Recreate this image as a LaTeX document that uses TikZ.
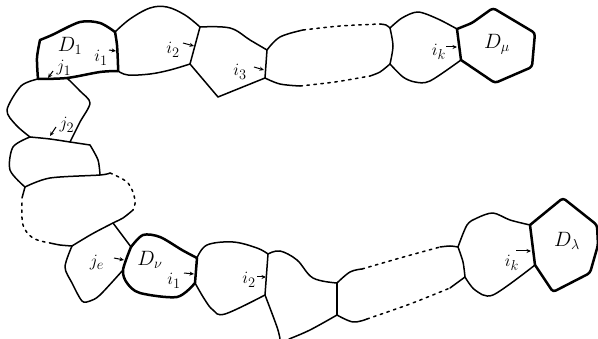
\documentclass[tikz,border=0pt]{standalone}
\usetikzlibrary{arrows.meta}
\begin{document}
\begin{tikzpicture}[x=1pt,y=-1pt,
  wall/.style={line width=1.5pt, line cap=round, line join=round},
  boldwall/.style={line width=2.5pt, line cap=round, line join=round},
  gap/.style={line width=1.5pt, line cap=round, dash pattern=on 2.5pt off 4.5pt},
  lbl/.style={font=\fontsize{19}{19}\selectfont, inner sep=0pt},
  big/.style={font=\fontsize{21}{21}\selectfont, inner sep=0pt},
  tip/.style={line width=1pt, -{Stealth[length=4.5pt,width=4pt]}}]
\useasboundingbox (0,0) rectangle (598,339);

% shared vertices of the cell walls
\coordinate (a1) at (40,40);   \coordinate (a2) at (115,32);
\coordinate (a3) at (118,71);  \coordinate (a4) at (38,79);
\coordinate (b1) at (200,27);  \coordinate (b2) at (190,64);
\coordinate (b3) at (218,97);
\coordinate (c1) at (267,50);  \coordinate (c2) at (265,78);
\coordinate (e1) at (390,28);  \coordinate (e2) at (390,64);
\coordinate (f1) at (457,29);  \coordinate (f2) at (461,60);
\coordinate (g1) at (67,78);
\coordinate (h1) at (30,137);  \coordinate (h2) at (70,142);
\coordinate (h3) at (90,145);  \coordinate (h4) at (100,175);
\coordinate (h5) at (25,187);  \coordinate (h6) at (110,173);
\coordinate (j1) at (72,246);  \coordinate (j2) at (113,223);
\coordinate (j3) at (131,247); \coordinate (j4) at (123,270);
\coordinate (k1) at (197,258); \coordinate (k2) at (195,283);
\coordinate (l1) at (268,254); \coordinate (l2) at (265,295);
\coordinate (m1) at (337,283); \coordinate (m2) at (337,315);
\coordinate (n1) at (458,247); \coordinate (n2) at (465,277);
\coordinate (p1) at (530,225); \coordinate (p2) at (535,265);

% ---- upper chain ----
\draw[wall] plot[smooth,tension=.6] coordinates {(a2) (130,19) (150,8) (167,7) (185,15) (b1)};
\draw[wall] plot[smooth,tension=.6] coordinates {(a3) (128,75) (150,74) (170,70) (b2)};
\draw[wall] (b1) -- (b2);
\draw[wall] plot[smooth,tension=.6] coordinates {(b1) (230,28) (250,40) (c1)};
\draw[wall] (b2) -- (b3) -- (c2);
\draw[wall] (c1) -- (c2);
\draw[wall] plot[smooth,tension=.6] coordinates {(c1) (280,37) (303,30)};
\draw[gap] plot[smooth] coordinates {(303,30) (340,26) (380,24)};
\draw[wall] plot[smooth] coordinates {(380,24) (386,25) (e1)};
\draw[wall] plot[smooth,tension=.6] coordinates {(c2) (280,84) (300,86)};
\draw[gap] plot[smooth] coordinates {(300,86) (335,82) (370,76)};
\draw[wall] plot[smooth] coordinates {(370,76) (380,72) (e2)};
\draw[wall] plot[smooth] coordinates {(e1) (393,46) (e2)};
\draw[wall] plot[smooth,tension=.5] coordinates {(e1) (402,18) (418,12) (438,19) (f1)};
\draw[wall] plot[smooth,tension=.5] coordinates {(e2) (403,77) (415,82) (430,81) (f2)};

% ---- left column ----
\draw[wall] plot[smooth,tension=.5] coordinates {(a4) (21,86) (7,110) (16,125) (h1)};
\draw[wall] plot[smooth,tension=.5] coordinates {(g1) (80,91) (90,103) (80,122) (h2)};
\draw[wall] plot[smooth,tension=.5] coordinates {(h1) (50,139) (h2) (h3)};
\draw[wall] plot[smooth,tension=.5] coordinates {(h3) (98,160) (h4)};
\draw[wall] plot[smooth,tension=.5] coordinates {(h1) (13,147) (10,170) (h5)};
\draw[wall] plot[smooth,tension=.5] coordinates {(h5) (50,178) (h4) (h6)};
\draw[wall] plot[smooth] coordinates {(h5) (22,198)};
\draw[gap] plot[smooth,tension=.6] coordinates {(22,203) (23,225) (33,238) (50,243)};
\draw[wall] plot[smooth] coordinates {(50,243) (60,245) (j1)};
\draw[gap] plot[smooth,tension=.6] coordinates {(h6) (128,183) (135,200) (133,210)};
\draw[wall] plot[smooth,tension=.6] coordinates {(133,210) (123,218) (j2) (92,234) (j1)};
\draw[wall] (j2) -- (j3);
\draw[wall] plot[smooth,tension=.5] coordinates {(j1) (65,267) (72,283) (82,301) (90,301) (100,295) (j4)};

% ---- lower chain ----
\draw[wall] plot[smooth,tension=.6] coordinates {(k1) (207,245) (233,242) (257,248) (l1)};
\draw[wall] (l1) -- (l2);
\draw[wall] plot[smooth,tension=.6] coordinates {(k2) (205,300) (213,310) (225,314) (l2)};
\draw[wall] plot[smooth,tension=.6] coordinates {(l1) (280,251) (297,260) (313,278) (m1)};
\draw[wall] (m1) -- (m2);
\draw[wall] plot[smooth,tension=.6] coordinates {(l2) (277,327) (280,339)};
\draw[wall] plot[smooth,tension=.6] coordinates {(m2) (310,330) (289,339)};
\draw[wall] plot[smooth,tension=.6] coordinates {(m1) (350,272) (362,269)};
\draw[gap] plot[smooth] coordinates {(362,269) (400,258) (440,247)};
\draw[wall] plot[smooth] coordinates {(440,247) (450,246) (n1)};
\draw[wall] plot[smooth,tension=.6] coordinates {(m2) (353,322) (367,319)};
\draw[gap] plot[smooth] coordinates {(367,319) (410,304) (450,288)};
\draw[wall] plot[smooth] coordinates {(450,288) (n2)};
\draw[wall] plot[smooth] coordinates {(n1) (463,262) (n2)};
\draw[wall] plot[smooth,tension=.5] coordinates {(n1) (467,225) (477,218) (493,213) (510,220) (p1)};
\draw[wall] plot[smooth,tension=.5] coordinates {(n2) (475,290) (493,295) (p2)};

% ---- distinguished cells (heavy outline) ----
\draw[boldwall] plot[smooth,tension=.5] coordinates {(a1) (52,35) (80,22) (100,23) (a2)};
\draw[boldwall] plot[smooth,tension=.5] coordinates {(a2) (117,45) (118,65) (a3)};
\draw[boldwall] plot[smooth,tension=.5] coordinates {(a3) (100,72) (g1) (a4)};
\draw[boldwall] plot[smooth,tension=.5] coordinates {(a4) (37,58) (a1)};

\draw[boldwall] (f1) -- (f2);
\draw[boldwall, rounded corners=3pt] (f1) -- (472,23) -- (493,8) -- (535,33) -- (532,67) -- (495,83) -- (f2);

\draw[boldwall] plot[smooth,tension=.5] coordinates {(j3) (143,235) (160,237) (182,250) (k1)};
\draw[boldwall] (k1) -- (k2);
\draw[boldwall] plot[smooth,tension=.5] coordinates {(k2) (177,297) (140,293) (127,283) (j4) (j3)};

\draw[boldwall] (p1) -- (p2);
\draw[boldwall, rounded corners=3pt] (p1) -- (563,198) -- (597,225) -- (598,245) -- (590,273) -- (553,292) -- (p2);

% ---- labels and entry arrows ----
\node[big] (D1) at (70,46) {$D_1$};
\node[lbl] (ti1) at (101,58) {$i_1$};
\draw[tip] (109,50) -- (116,51);
\node[lbl] (tj1) at (64,68) {$j_1$};
\draw[tip] (53,71) -- (48,78);
\node[lbl] (ti2) at (173,50) {$i_2$};
\draw[tip] (183,43) -- (194,46);
\node[lbl] (ti3) at (240,72) {$i_3$};
\draw[tip] (254,67) -- (264,70);
\node[lbl] (tik) at (439,52) {$i_k$};
\draw[tip] (446,47) -- (457,47);
\node[big] (Dmu) at (497,44) {$D_\mu$};
\node[lbl] (tj2) at (67,125) {$j_2$};
\draw[tip] (56,127) -- (50,136);

\node[lbl] (je) at (97,263) {$j_e$};
\draw[tip] (114,258) -- (124,260);
\node[big] (Dnu) at (150,260) {$D_\nu$};
\node[lbl] (bi1) at (174,281) {$i_1$};
\draw[tip] (184,273) -- (194,274);
\node[lbl] (bi2) at (249,280) {$i_2$};
\draw[tip] (257,277) -- (266,277);
\node[lbl] (bik) at (512,263) {$i_k$};
\draw[tip] (516,251) -- (531,251);
\node[big] (Dla) at (567,241) {$D_\lambda$};
\end{tikzpicture}
\end{document}
